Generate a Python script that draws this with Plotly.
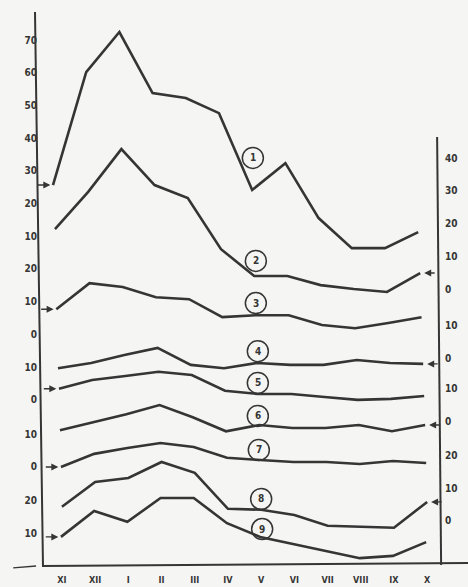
import plotly.graph_objects as go

months = ["XI", "XII", "I", "II", "III", "IV", "V", "VI", "VII", "VIII", "IX", "X"]

# values of each curve, read on its own scale
c1 = [25.7, 60.2, 72.5, 53.8, 52.3, 47.7, 24.2, 32.4, 15.6, 6.4, 6.4, 11.3]
c2 = [18.3, 29.7, 42.8, 31.8, 27.8, 12.2, 4.0, 4.0, 1.2, 0.0, -0.9, 4.9]
c3 = [7.6, 15.6, 14.4, 11.3, 10.7, 5.2, 5.8, 5.8, 2.8, 1.8, 3.4, 5.2]
c4 = [-3.1, -1.5, 0.9, 3.1, -2.1, -3.1, -1.5, -2.1, -2.1, -0.6, -1.5, -1.8]
c5 = [3.4, 6.1, 7.3, 8.6, 7.6, 2.8, 1.8, 1.8, 0.9, 0.0, 0.3, 1.2]
c6 = [-2.8, -0.3, 2.1, 4.9, 1.2, -3.1, -1.2, -2.1, -2.1, -1.2, -3.1, -1.2]
c7 = [0.0, 4.0, 5.8, 7.3, 6.1, 2.8, 2.1, 1.5, 1.5, 0.9, 1.8, 1.2]
c8 = [4.3, 11.9, 13.1, 18.0, 14.7, 3.7, 3.4, 1.8, -1.5, -1.8, -2.1, 5.8]
c9 = [8.9, 16.8, 13.5, 20.8, 20.8, 13.1, 8.9, 6.7, 4.6, 2.4, 3.1, 7.3]
curves = [c1, c2, c3, c4, c5, c6, c7, c8, c9]
curve_names = ["1", "2", "3", "4", "5", "6", "7", "8", "9"]

# scale labels: left scales belong to curves 1,3,5,7,9 ; right scales to 2,4,6,8
left_scale_labels = {0: [70, 60, 50, 40, 30, 20, 10], 2: [20, 10, 0], 4: [10, 0], 6: [10, 0], 8: [20, 10]}
right_scale_labels = {1: [40, 30, 20, 10, 0], 3: [10, 0], 5: [10, 0], 7: [20, 10, 0]}

# ---- layout positions (not data) ----
base = [90.8, 84.7, 70.9, 63.6, 50.8, 44.3, 30.3, 13.8, 0.0]      # zero of each curve's scale
xoff = [0.0, 0.06, 0.1, 0.15, 0.18, 0.21, 0.24, 0.27, 0.24]       # slight skew of the scan
label_pos = [(6.02, 124.8), (6.11, 93.3), (6.11, 80.4), (6.17, 65.7), (6.17, 56.0),
             (6.17, 45.9), (6.20, 35.5), (6.27, 20.5), (6.30, 11.3)]

INK = "#353535"
BG = "#f5f5f3"
FONT = "DejaVu Sans Condensed"
XR = [-1.596, 12.5]
YR = [-6.42, 173.09]

fig = go.Figure()
for k, vals in enumerate(curves):
    xs = [i + xoff[k] for i in range(len(months))]
    ys = [base[k] + v for v in vals]
    fig.add_trace(go.Scatter(
        x=xs, y=ys, mode="lines", name=curve_names[k],
        yaxis="y2" if k % 2 == 1 else "y",
        line=dict(color=INK, width=2.6), showlegend=False, hoverinfo="skip"))

lt_vals, lt_text = [], []
for k, labs in left_scale_labels.items():
    for v in labs:
        lt_vals.append(base[k] + v)
        lt_text.append(str(v))
rt_vals, rt_text = [], []
for k, labs in right_scale_labels.items():
    for v in labs:
        rt_vals.append(base[k] + v)
        rt_text.append(str(v))

tickfont = dict(family=FONT, size=10, color=INK, weight="bold")

shapes = [
    # left axis
    dict(type="line", xref="x", yref="y", x0=-0.542, y0=169.4, x1=-0.301, y1=-0.3,
         line=dict(color=INK, width=2)),
    # bottom axis
    dict(type="line", xref="x", yref="y", x0=-0.33, y0=0.0, x1=12.5, y1=0.92,
         line=dict(color=INK, width=2)),
    # right axis
    dict(type="line", xref="x", yref="y", x0=11.57, y0=131.2, x1=11.69, y1=0.3,
         line=dict(color=INK, width=2)),
    # little mark at bottom-left
    dict(type="line", xref="x", yref="y", x0=-1.2, y0=-0.6, x1=-0.51, y1=0.0,
         line=dict(color=INK, width=1.3)),
]
annotations = []
for k, (lx, ly) in enumerate(label_pos):
    shapes.append(dict(type="circle", xref="x", yref="y", xsizemode="pixel", ysizemode="pixel",
                       xanchor=lx, yanchor=ly, x0=-10.5, x1=10.5, y0=-10.5, y1=10.5,
                       line=dict(color=INK, width=1.5)))
    annotations.append(dict(x=lx, y=ly, xref="x", yref="y", text=curve_names[k], showarrow=False,
                            font=dict(family=FONT, size=10, color=INK, weight="bold")))

for k, vals in enumerate(curves):
    if k % 2 == 0:
        annotations.append(dict(x=xoff[k] - 0.08, y=base[k] + vals[0], xref="x", yref="y",
                                text="", showarrow=True, ax=-14, ay=0, arrowhead=2,
                                arrowsize=1, arrowwidth=1.4, arrowcolor=INK, standoff=0))
    else:
        annotations.append(dict(x=len(months) - 1 + xoff[k] + 0.12, y=base[k] + vals[-1],
                                xref="x", yref="y", text="", showarrow=True, ax=12, ay=0,
                                arrowhead=2, arrowsize=1, arrowwidth=1.4, arrowcolor=INK,
                                standoff=0))

fig.update_layout(
    width=468, height=587,
    margin=dict(l=0, r=0, t=0, b=0),
    paper_bgcolor=BG, plot_bgcolor=BG,
    showlegend=False,
    xaxis=dict(range=XR, anchor="free", position=(587 - 566) / 587,
               tickvals=[i + 0.27 for i in range(len(months))], ticktext=months,
               showgrid=False, zeroline=False, showline=False, ticks="",
               ticklabelstandoff=7,
               tickfont=dict(family=FONT, size=9, color=INK, weight="bold")),
    yaxis=dict(range=YR, anchor="free", position=37 / 468, side="left",
               tickvals=lt_vals, ticktext=lt_text, showgrid=False, zeroline=False,
               showline=False, ticks="", tickfont=tickfont),
    yaxis2=dict(range=YR, anchor="free", position=444 / 468, side="right", overlaying="y",
                tickvals=rt_vals, ticktext=rt_text, showgrid=False, zeroline=False,
                showline=False, ticks="", tickfont=tickfont),
    shapes=shapes,
    annotations=annotations,
)

fig.write_html("out.html", config={"displayModeBar": False},
               post_script="document.body.style.margin='0';document.body.style.background='#f5f5f3';")
